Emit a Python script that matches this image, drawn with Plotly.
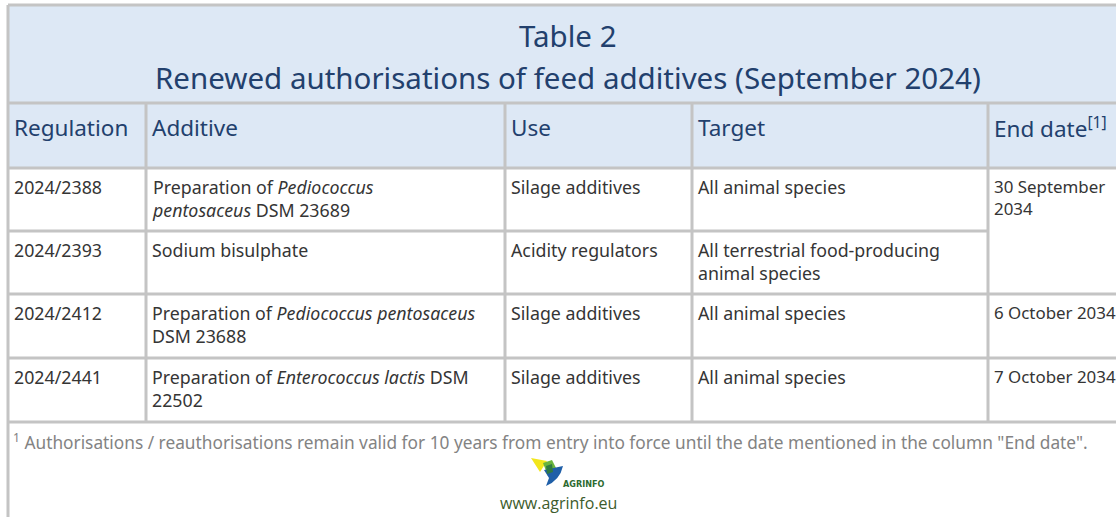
import plotly.graph_objects as go

# ---------------- data ----------------
title_lines = ["Table 2", "Renewed authorisations of feed additives (September 2024)"]
headers = ["Regulation", "Additive", "Use", "Target", "End date<sup>[1]</sup>"]
regulations = ["2024/2388", "2024/2393", "2024/2412", "2024/2441"]
additives = [
    "Preparation of <i>Pediococcus</i><br><i>pentosaceus</i> DSM 23689",
    "Sodium bisulphate",
    "Preparation of <i>Pediococcus pentosaceus</i><br>DSM 23688",
    "Preparation of <i>Enterococcus lactis</i> DSM<br>22502",
]
uses = ["Silage additives", "Acidity regulators", "Silage additives", "Silage additives"]
targets = [
    "All animal species",
    "All terrestrial food-producing<br>animal species",
    "All animal species",
    "All animal species",
]
end_dates = ["30 September<br>2034", "", "6 October 2034", "7 October 2034"]
end_date_rowspan = [2, 0, 1, 1]
footnote = ("<sup>1</sup> Authorisations / reauthorisations remain valid for 10 years "
            "from entry into force until the date mentioned in the column \"End date\".")
logo_text = "AGRINFO"
source = "www.agrinfo.eu"

# ---------------- layout constants ----------------
W, H = 1116, 517
FONT = "'Noto Sans', sans-serif"
col_edges = [8, 146, 505, 692, 988, 1128]
title_top, header_top, body_top = 5, 103, 168
row_edges = [168, 231, 294, 358, 422]
LINE_C, LINE_W = "#c4c4c4", 3
HEAD_BG = "#dde8f5"
TITLE_C = "#22406d"
BODY_C = "#353535"
NOTE_C = "#838383"
TITLE_SIZE, HEAD_SIZE, NOTE_SIZE = 29.5, 22.5, 17.3
BODY_SIZES = [17.8, 17.8, 17.8, 17.8, 16.9]

columns = [regulations, additives, uses, targets, end_dates]
spans = [[1] * 4, [1] * 4, [1] * 4, [1] * 4, end_date_rowspan]

shapes = []
annotations = []

# header background
shapes.append(dict(type="rect", xref="x", yref="y", x0=col_edges[0], x1=col_edges[-1],
                   y0=title_top, y1=body_top, fillcolor=HEAD_BG, line_width=0, layer="below"))

def hline(x0, x1, y):
    shapes.append(dict(type="line", xref="x", yref="y", x0=x0, x1=x1, y0=y, y1=y,
                       line=dict(color=LINE_C, width=LINE_W)))

def vline(x, y0, y1):
    shapes.append(dict(type="line", xref="x", yref="y", x0=x, x1=x, y0=y0, y1=y1,
                       line=dict(color=LINE_C, width=LINE_W)))

# outer border
hline(col_edges[0], col_edges[-1], title_top)
vline(col_edges[0], title_top, H + 2)
vline(col_edges[-1], title_top, H + 2)
# title / header separators
hline(col_edges[0], col_edges[-1], header_top)
hline(col_edges[0], col_edges[-1], body_top)
# column separators
for x in col_edges[1:-1]:
    vline(x, header_top, row_edges[-1])
# row separators (respect merged cells)
for r in range(1, len(row_edges)):
    y = row_edges[r]
    for c in range(len(columns)):
        covered = False
        if r < len(row_edges) - 1:
            for k in range(r):
                if spans[c][k] > 1 and k + spans[c][k] > r:
                    covered = True
        if not covered:
            hline(col_edges[c], col_edges[c + 1], y)

# title text
cx = (col_edges[0] + col_edges[-1]) / 2
for i, t in enumerate(title_lines):
    annotations.append(dict(x=cx, y=[35, 77][i], xref="x", yref="y", text=t, showarrow=False,
                            xanchor="center", yanchor="middle",
                            font=dict(family=FONT, size=TITLE_SIZE, color=TITLE_C)))
# column headers
for c, h in enumerate(headers):
    annotations.append(dict(x=col_edges[c] + 4, y=127, xref="x", yref="y", text=h, showarrow=False,
                            xanchor="left", yanchor="middle", align="left",
                            font=dict(family=FONT, size=HEAD_SIZE, color=TITLE_C)))
# body cells
for c, col in enumerate(columns):
    for r, val in enumerate(col):
        if spans[c][r] == 0 or not val:
            continue
        annotations.append(dict(x=col_edges[c] + 4, y=row_edges[r] + 5, xref="x", yref="y",
                                text=val, showarrow=False, xanchor="left", yanchor="top",
                                align="left", font=dict(family=FONT, size=BODY_SIZES[c], color=BODY_C)))
# footnote
annotations.append(dict(x=11, y=441, xref="x", yref="y", text=footnote, showarrow=False,
                        xanchor="left", yanchor="middle", align="left",
                        font=dict(family=FONT, size=NOTE_SIZE, color=NOTE_C)))
# logo (approximate glyph) + text
shapes.append(dict(type="path", xref="x", yref="y", path="M 531 458 L 547 461 L 540 472 Z",
                   fillcolor="#f2e61c", line_width=0))
shapes.append(dict(type="path", xref="x", yref="y", path="M 543 463 L 552 460 L 557 470 L 548 476 Z",
                   fillcolor="#6ab43e", line_width=0))
shapes.append(dict(type="path", xref="x", yref="y", path="M 544 470 L 563 466 Q 560 480 546 486 L 549 478 Z",
                   fillcolor="#1f5fa8", line_width=0))
shapes.append(dict(type="path", xref="x", yref="y", path="M 546 466 L 552 464 L 553 472 L 547 474 Z",
                   fillcolor="#2f7a43", line_width=0))
annotations.append(dict(x=561, y=484, xref="x", yref="y", text="<b>" + logo_text + "</b>", showarrow=False,
                        xanchor="left", yanchor="middle",
                        font=dict(family="'DejaVu Sans Condensed', sans-serif", size=9, color="#2d6a30")))
annotations.append(dict(x=558, y=503, xref="x", yref="y", text=source, showarrow=False,
                        xanchor="center", yanchor="middle",
                        font=dict(family="'Open Sans', sans-serif", size=16, color="#3d5c2c")))

fig = go.Figure()
fig.update_layout(
    width=W, height=H, margin=dict(l=0, r=0, t=0, b=0),
    paper_bgcolor="white", plot_bgcolor="white",
    xaxis=dict(range=[0, W], visible=False, fixedrange=True),
    yaxis=dict(range=[H, 0], visible=False, fixedrange=True),
    shapes=shapes, annotations=annotations, showlegend=False,
)
fig.write_html("out.html", config={"displayModeBar": False},
               post_script="document.body.style.margin='0px';")
